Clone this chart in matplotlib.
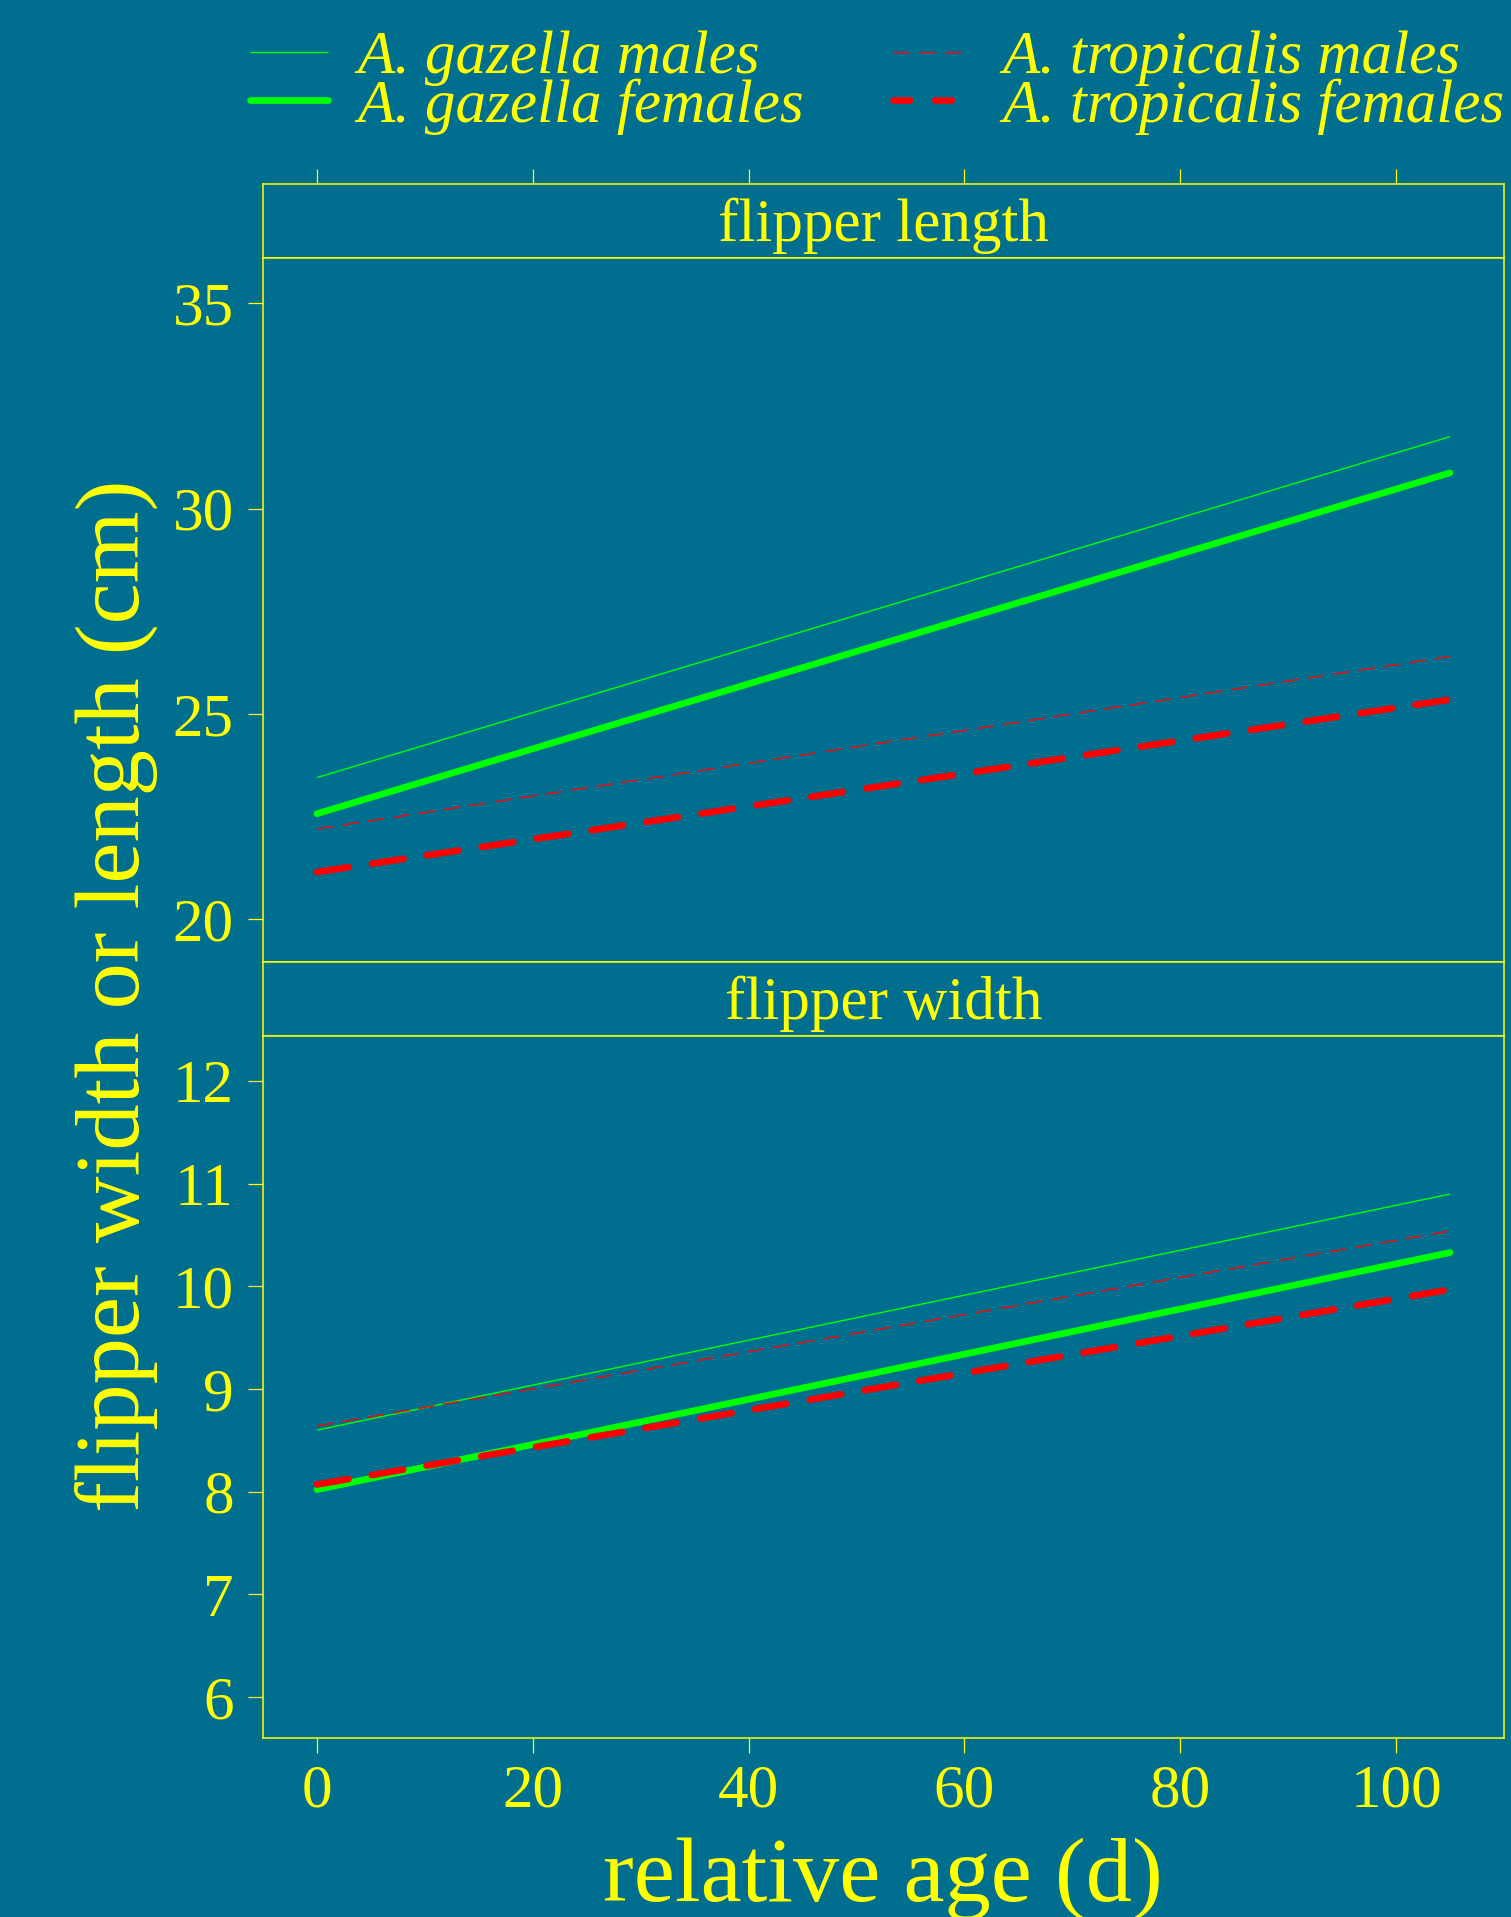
import numpy as np
import matplotlib
matplotlib.use("Agg")
import matplotlib.pyplot as plt
from matplotlib.lines import Line2D

# fitted growth lines, value at the first and last relative age
age = [0, 105]
length_gaz_m = [23.45, 31.75]
length_gaz_f = [22.57, 30.87]
length_tro_m = [22.20, 26.40]
length_tro_f = [21.15, 25.35]
width_gaz_m = [8.60, 10.90]
width_gaz_f = [8.02, 10.33]
width_tro_m = [8.64, 10.54]
width_tro_f = [8.07, 9.97]

panel_names = ["flipper length", "flipper width"]
series_names = ["A. gazella males", "A. gazella females",
                "A. tropicalis males", "A. tropicalis females"]

BG = "#006f8f"
FG = "#ffff00"
GREEN = "#00ff00"
RED = "#ff0000"

plt.rcParams["font.family"] = ["Liberation Serif", "DejaVu Serif"]
plt.rcParams["lines.scale_dashes"] = False

styles = [
    dict(color=GREEN, lw=1.0, solid_capstyle="butt"),
    dict(color=GREEN, lw=4.8, solid_capstyle="round"),
    dict(color=RED, lw=1.0, dashes=(12, 6.5), dash_capstyle="butt"),
    dict(color=RED, lw=4.8, dashes=(23, 17), dash_capstyle="round"),
]

W, H = 1511, 1917
fig = plt.figure(figsize=(W / 100, H / 100), dpi=100, facecolor=BG)

def box(x0, y0, x1, y1):
    return [x0 / W, 1 - y1 / H, (x1 - x0) / W, (y1 - y0) / H]

L, R = 263, 1504
strip_top = fig.add_axes(box(L, 184, R, 258))
ax_len = fig.add_axes(box(L, 258, R, 962))
strip_bot = fig.add_axes(box(L, 962, R, 1036))
ax_wid = fig.add_axes(box(L, 1036, R, 1738))

xlim = (-5, 110)
for ax in [strip_top, ax_len, strip_bot, ax_wid]:
    ax.set_facecolor(BG)
    ax.set_xlim(*xlim)
    for s in ax.spines.values():
        s.set_color(FG)
        s.set_linewidth(1.1)
    ax.tick_params(colors=FG, labelcolor=FG, labelsize=44, length=11,
                   width=0.9, direction="out")

for st, name in zip([strip_top, strip_bot], panel_names):
    st.set_ylim(0, 1)
    st.set_yticks([])
    st.text(0.5, 0.44, name, transform=st.transAxes, ha="center",
            va="center", color=FG, fontsize=44)
    st.set_xticks([0, 20, 40, 60, 80, 100])
    st.tick_params(axis="x", bottom=False, labelbottom=False,
                   top=strip_top is st, labeltop=False)
strip_bot.set_xticks([])

length_data = [length_gaz_m, length_gaz_f, length_tro_m, length_tro_f]
width_data = [width_gaz_m, width_gaz_f, width_tro_m, width_tro_f]

for ax, data in [(ax_len, length_data), (ax_wid, width_data)]:
    for vals, sty in zip(data, styles):
        ax.plot(age, vals, **sty)

ax_len.set_ylim(18.96, 36.1)
ax_len.set_yticks([20, 25, 30, 35])
ax_len.set_xticks([])
ax_wid.set_ylim(5.6, 12.44)
ax_wid.set_yticks([6, 7, 8, 9, 10, 11, 12])
ax_wid.set_xticks([0, 20, 40, 60, 80, 100])
ax_wid.tick_params(axis="x", pad=8)
for ax in [ax_len, ax_wid]:
    ax.tick_params(axis="y", pad=10)

fig.text(883 / W, 1 - 1901 / H, "relative age (d)", ha="center",
         va="baseline", color=FG, fontsize=66.5)
fig.text(116 / W, 1 - 996 / H, "flipper width or length (cm)",
         ha="center", va="center", rotation=90, color=FG, fontsize=66.5)

# legend drawn as two columns of keys and labels at the top
key_x = [(250, 328), (893, 965)]
text_x = [357, 1002]
row_y = [52, 100]
base_y = [73, 122]
key_styles = [
    styles[0], styles[1],
    dict(color=RED, lw=1.0, dashes=(12, 6.5), dash_capstyle="butt"),
    dict(color=RED, lw=4.8, dashes=(12, 18), dash_capstyle="round"),
]
for i, (name, sty) in enumerate(zip(series_names, key_styles)):
    col, row = divmod(i, 2)
    x0, x1 = key_x[col]
    fig.add_artist(Line2D([x0 / W, x1 / W], [1 - row_y[row] / H] * 2,
                          transform=fig.transFigure, **sty))
    fig.text(text_x[col] / W, 1 - base_y[row] / H, name, ha="left",
             va="baseline", color=FG, fontsize=44, style="italic")

fig.savefig("out.png", dpi=100, facecolor=BG)
